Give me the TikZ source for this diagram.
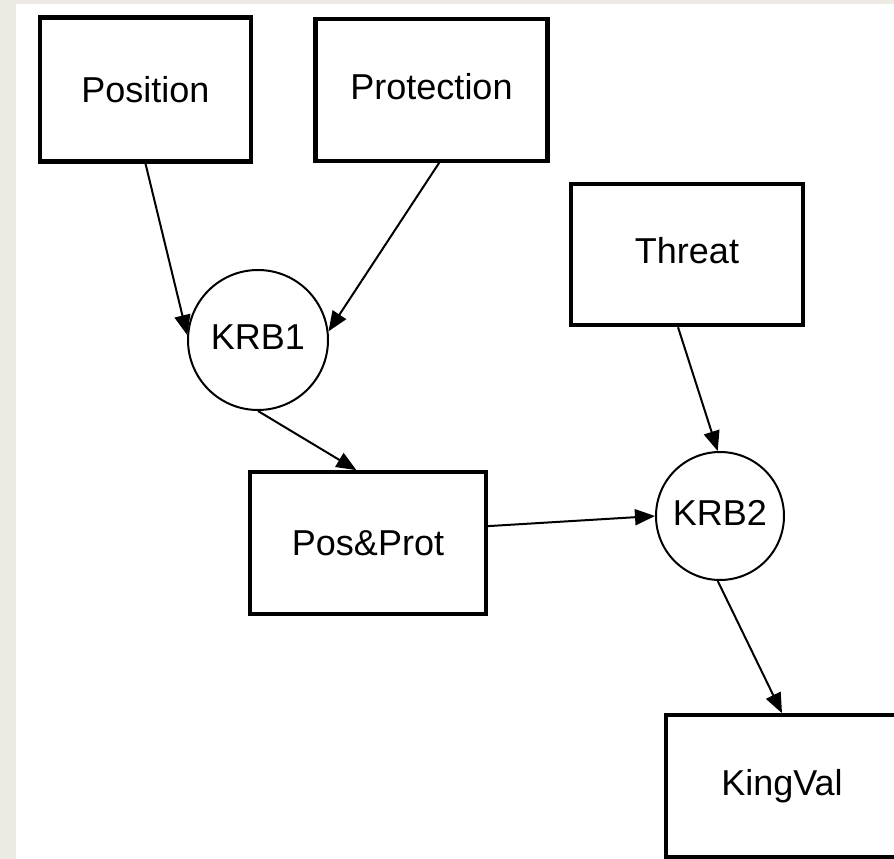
\documentclass[tikz,border=0pt]{standalone}
\usepackage{fontspec}
\setmainfont{Liberation Sans}
\usetikzlibrary{arrows.meta}
\definecolor{pagegrey}{RGB}{237,234,227}
\tikzset{
	kbox/.style={draw=black, line width=3.2pt, fill=white, minimum width=174pt, minimum height=106pt, inner sep=0pt, font=\fontsize{27pt}{32pt}\selectfont},
	krb/.style={draw=black, line width=1.5pt, fill=white, circle, inner sep=0pt, font=\fontsize{27pt}{32pt}\selectfont},
	raised/.style={text height=20pt, text depth=6pt},
	arr/.style={line width=1.5pt, -{Triangle[length=15pt,width=12pt]}}
}

\begin{document}
\begin{tikzpicture}[x=0.75pt, y=-0.75pt]
			%%%%% START %%%%%
			
			\useasboundingbox (0, 0) rectangle (894, 859);
			\clip (0, 0) rectangle (894, 859);
			\fill[pagegrey] (0, 0) rectangle (894, 859);
			\fill[white] (16, 4) rectangle (894, 859);
			
			\node[kbox, minimum width=158pt, minimum height=108pt] (position) at (145.5, 89.5) {Position};
			\node[kbox, raised] (protection) at (431.5, 90) {Protection};
			\node[kbox, raised] (threat) at (687, 254.5) {Threat};
			\node[kbox, minimum width=177pt] (posprot) at (368, 543) {Pos\&Prot};
			\node[kbox] (kingval) at (782, 786) {KingVal};
			
			\node[krb, raised, minimum size=105pt] (krb1) at (258, 340) {KRB1};
			\node[krb, raised, minimum size=96pt] (krb2) at (720, 516) {KRB2};
			
			\draw[arr] (position.south) -- (krb1.176);
			\draw[arr] (protection.-84) -- (krb1.7);
			\draw[arr] (krb1.south) -- (posprot.99);
			\draw[arr] (posprot.8) -- (krb2.west);
			\draw[arr] (threat.-97) -- (krb2.92);
			\draw[arr] (krb2.-92) -- (kingval.north);
			
			%%%%% END %%%%%
		\end{tikzpicture}
\end{document}
